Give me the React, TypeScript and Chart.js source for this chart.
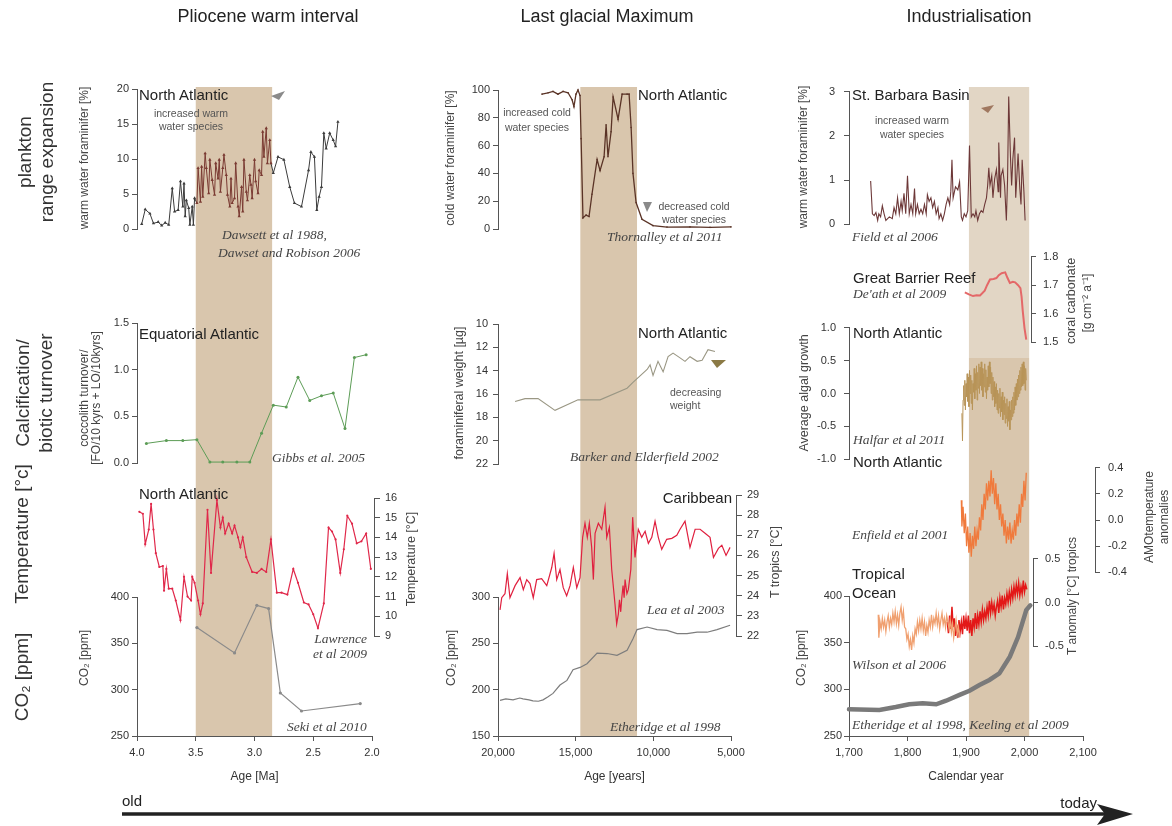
import React, { useEffect, useRef } from 'react';
import { Chart, registerables } from 'chart.js';

Chart.register(...registerables);

type Pt = [number, number];

// ====================== DATA ======================
// Axis ranges and tick labels
const plioceneDomain: Pt = [4.0, 2.0];
const glacialDomain: Pt = [20000, 5000];
const industrialDomain: Pt = [1700, 2100];
const plioceneAgeTicks = [4.0, 3.5, 3.0, 2.5, 2.0];
const glacialAgeTicks = [20000, 15000, 10000, 5000];
const industrialYearTicks = [1700, 1800, 1900, 2000, 2100];
const plioceneBand: Pt = [3.5, 2.85];
const glacialBand: Pt = [14700, 11050];
const industrialBand: Pt = [1905, 2008];

// Pliocene (Ma, value)
const plioWarmForam: Pt[] = [
  [3.96, 0.7], [3.93, 2.8], [3.89, 2.2], [3.86, 0.8], [3.82, 1.0], [3.79, 0.5], [3.76, 0.9], [3.73, 0.6],
  [3.70, 5.8], [3.68, 2.5], [3.65, 2.7], [3.63, 6.8], [3.61, 3.2], [3.60, 6.5], [3.59, 1.8], [3.58, 4.1],
  [3.56, 3.0], [3.55, 0.6], [3.53, 3.2], [3.52, 0.6], [3.51, 4.4], [3.49, 3.7], [3.48, 8.7], [3.46, 3.9],
  [3.45, 8.9], [3.44, 4.6], [3.42, 10.8], [3.41, 8.7], [3.39, 5.1], [3.38, 9.9], [3.36, 7.0], [3.34, 4.9],
  [3.33, 9.4], [3.31, 7.2], [3.30, 9.9], [3.29, 5.3], [3.27, 8.7], [3.26, 10.6], [3.24, 7.7], [3.23, 4.9],
  [3.21, 3.2], [3.20, 7.2], [3.19, 3.7], [3.17, 4.4], [3.16, 9.4], [3.14, 3.2], [3.13, 1.8], [3.11, 6.0],
  [3.10, 2.5], [3.09, 9.9], [3.07, 5.3], [3.06, 4.1], [3.04, 7.7], [3.03, 6.3], [3.02, 4.4], [3.00, 9.9],
  [2.99, 6.8], [2.97, 5.1], [2.96, 8.4], [2.94, 7.7], [2.93, 13.9], [2.92, 10.3], [2.90, 14.4], [2.89, 9.4],
  [2.87, 12.7], [2.86, 9.4], [2.84, 8.0], [2.80, 10.3], [2.75, 9.9], [2.70, 6.0], [2.66, 3.7], [2.60, 3.2],
  [2.54, 8.4], [2.52, 11.0], [2.49, 10.3], [2.47, 2.7], [2.45, 4.6], [2.43, 6.0], [2.41, 13.7], [2.39, 11.5],
  [2.36, 13.7], [2.33, 12.7], [2.31, 11.8], [2.29, 15.3],
];
const plioCoccolith: Pt[] = [
  [3.92, 0.21], [3.75, 0.24], [3.61, 0.24], [3.49, 0.25], [3.38, 0.01], [3.27, 0.01], [3.15, 0.01], [3.04, 0.01],
  [2.94, 0.32], [2.84, 0.62], [2.73, 0.60], [2.63, 0.92], [2.53, 0.67], [2.43, 0.72], [2.33, 0.75], [2.23, 0.37],
  [2.15, 1.13], [2.05, 1.16],
];
const plioTemperature: Pt[] = [
  [3.98, 15.3], [3.95, 15.2], [3.93, 13.66], [3.90, 14.4], [3.88, 15.7], [3.86, 14.4], [3.84, 13.2], [3.81, 12.5],
  [3.78, 12.55], [3.77, 11.3], [3.75, 12.4], [3.73, 11.4], [3.70, 11.4], [3.67, 10.8], [3.63, 9.8], [3.60, 12.0],
  [3.57, 11.0], [3.54, 10.8], [3.53, 12.0], [3.51, 11.7], [3.48, 10.8], [3.46, 10.1], [3.44, 10.65], [3.40, 15.4],
  [3.37, 12.2], [3.32, 15.9], [3.29, 14.5], [3.27, 15.0], [3.25, 14.2], [3.22, 14.7], [3.19, 14.2], [3.17, 14.6],
  [3.14, 14.0], [3.12, 13.5], [3.10, 14.0], [3.07, 13.0], [3.02, 12.25], [2.98, 12.2], [2.94, 12.4], [2.90, 12.25],
  [2.86, 13.9], [2.81, 11.2], [2.77, 11.2], [2.72, 11.1], [2.67, 12.4], [2.63, 11.7], [2.58, 10.7], [2.54, 10.6],
  [2.50, 10.1], [2.46, 9.4], [2.41, 10.65], [2.37, 14.5], [2.34, 14.3], [2.31, 13.9], [2.27, 12.2], [2.24, 13.4],
  [2.21, 15.1], [2.17, 14.7], [2.13, 13.7], [2.09, 13.8], [2.05, 14.2], [2.01, 12.4],
];
const plioCO2: Pt[] = [
  [3.49, 367], [3.17, 339.6], [2.98, 391], [2.88, 387.5], [2.78, 296.4], [2.60, 277], [2.10, 285],
];

// Last glacial (years BP, value)
const lgmColdForam: Pt[] = [
  [17170, 97], [16780, 98], [16460, 99], [16140, 97], [15810, 99], [15490, 98], [15230, 93], [15110, 88],
  [14980, 97], [14850, 100], [14720, 96], [14650, 65], [14530, 8], [14330, 10], [14140, 9], [13950, 25],
  [13620, 50], [13430, 42], [13170, 52], [13040, 75], [12920, 52], [12720, 70], [12590, 95], [12270, 79],
  [12010, 97], [11690, 97], [11560, 97], [11430, 73], [11310, 40], [11110, 19], [10730, 7], [10020, 2.4],
  [9120, 1.4], [7640, 1.5], [6350, 1.2], [5000, 1.5],
];
const lgmForamWeight: Pt[] = [
  [18900, 16.65], [18260, 16.4], [17420, 16.4], [16330, 17.4], [14850, 16.5], [13430, 16.5], [11690, 15.5],
  [11310, 15.0], [10400, 13.9], [10210, 13.5], [10020, 14.4], [9700, 13.2], [9370, 14.1], [9050, 12.8],
  [8730, 12.5], [8280, 12.9], [7960, 13.2], [7640, 12.8], [7180, 13.2], [6860, 13.1], [6480, 12.2], [6030, 12.35],
];
const lgmTropicsT: Pt[] = [
  [19870, 23.3], [19760, 23.9], [19550, 24.1], [19400, 25.1], [19230, 23.9], [18900, 24.5], [18580, 24.9],
  [18370, 24.3], [18150, 24.8], [17940, 24.6], [17730, 23.9], [17510, 24.8], [17190, 24.85], [16860, 24.5],
  [16540, 25.4], [16390, 26.1], [16220, 24.8], [16010, 25.3], [15800, 24.4], [15580, 24.0], [15360, 24.5],
  [15150, 25.4], [14930, 24.4], [14720, 24.9], [14550, 26.9], [14400, 27.6], [14250, 26.9], [14120, 27.6],
  [13970, 26.4], [13860, 24.8], [13750, 27.1], [13540, 27.6], [13320, 27.3], [13110, 28.4], [13000, 26.9],
  [12830, 27.4], [12680, 25.3], [12470, 23.6], [12360, 22.6], [12250, 23.1], [12180, 23.8], [12100, 23.2],
  [12030, 23.9], [11950, 24.5], [11880, 23.9], [11820, 24.8], [11700, 24.1], [11610, 24.3], [11450, 25.3],
  [11330, 27.9], [11180, 25.9], [10970, 27.3], [10750, 26.9], [10530, 27.2], [10320, 26.6], [10100, 26.9],
  [9890, 27.7], [9680, 26.9], [9460, 26.3], [9140, 26.8], [8810, 26.85], [8490, 27.0], [8280, 27.3],
  [7960, 27.7], [7640, 26.4], [7310, 27.3], [6990, 27.3], [6670, 27.1], [6350, 26.9], [6130, 25.9],
  [5810, 26.35], [5590, 26.5], [5320, 26.0], [5060, 26.4],
];
const lgmCO2: Pt[] = [
  [19870, 188.5], [19500, 190], [19030, 189], [18600, 191], [18390, 190], [18000, 189], [17750, 188],
  [17400, 187.5], [17100, 189], [16800, 192], [16460, 196], [16010, 205], [15560, 210], [15170, 221.6],
  [14720, 224], [14270, 228], [13620, 239.5], [12980, 239], [12340, 237], [11690, 242.5], [11310, 255],
  [11050, 264.8], [10400, 267.6], [9760, 264.8], [9120, 264], [8470, 260.5], [7830, 260.5], [7180, 262],
  [6540, 262], [5900, 264.8], [5060, 269.5],
];

// Industrialisation (calendar year, value)
const indWarmForam: Pt[] = [
  [1737, 0.98], [1740, 0.24], [1743, 0.20], [1746, 0.27], [1749, 0.09], [1751, 0.24], [1754, 0.17], [1757, 0.42],
  [1760, 0.24], [1763, 0.09], [1769, 0.17], [1774, 0.13], [1777, 0.38], [1780, 0.24], [1783, 0.60], [1786, 0.24],
  [1789, 0.52], [1791, 0.31], [1794, 0.70], [1797, 0.24], [1800, 1.10], [1803, 0.24], [1806, 0.45], [1809, 0.24],
  [1812, 0.81], [1814, 0.24], [1817, 0.45], [1820, 0.24], [1823, 0.34], [1826, 0.24], [1829, 0.45], [1832, 0.24],
  [1834, 0.67], [1837, 0.52], [1840, 0.60], [1843, 0.38], [1846, 0.52], [1849, 0.24], [1852, 0.38], [1854, 0.13],
  [1857, 0.24], [1860, 0.09], [1863, 0.24], [1866, 0.45], [1869, 0.60], [1872, 0.45], [1874, 0.74], [1876, 1.46],
  [1878, 0.60], [1882, 0.85], [1886, 0.78], [1889, 0.96], [1892, 0.17], [1894, 0.09], [1897, 0.24], [1900, 0.17],
  [1903, 0.31], [1906, 1.78], [1909, 0.17], [1912, 0.24], [1915, 0.17], [1917, 0.31], [1920, 0.09], [1923, 0.24],
  [1926, 0.31], [1929, 0.27], [1932, 0.45], [1935, 0.60], [1937, 0.88], [1939, 1.28], [1941, 0.88], [1944, 1.10],
  [1946, 0.60], [1949, 1.03], [1952, 1.24], [1955, 0.74], [1956, 1.85], [1959, 0.60], [1960, 1.10], [1963, 1.24],
  [1966, 0.88], [1969, 0.09], [1971, 1.00], [1973, 2.89], [1976, 1.53], [1978, 0.88], [1980, 1.46], [1983, 1.96],
  [1985, 0.60], [1987, 1.10], [1989, 1.60], [1992, 0.81], [1994, 0.45], [1996, 1.46], [1999, 0.74], [2001, 0.09],
];
const indCoralCarbonate: Pt[] = [
  [1898, 1.675], [1905, 1.668], [1912, 1.662], [1918, 1.665], [1924, 1.664], [1932, 1.681], [1936, 1.70],
  [1941, 1.72], [1947, 1.722], [1952, 1.725], [1956, 1.735], [1961, 1.742], [1967, 1.745], [1971, 1.725],
  [1975, 1.708], [1980, 1.712], [1984, 1.71], [1989, 1.70], [1993, 1.69], [1995, 1.66], [1997, 1.61],
  [2000, 1.55], [2003, 1.51],
];
const indAlgalGrowth: Pt[] = [
  [1893, -0.30], [1894, -0.72], [1895, -0.10], [1896, 0.12], [1897, -0.18], [1898, 0.20], [1899, -0.25], [1900, 0.15],
  [1901, -0.05], [1902, 0.30], [1903, -0.12], [1904, 0.25], [1905, -0.20], [1906, 0.35], [1907, 0.00], [1908, 0.28],
  [1909, -0.15], [1910, 0.20], [1911, -0.25], [1912, 0.15], [1913, 0.02], [1914, 0.38], [1915, -0.08], [1916, 0.30],
  [1917, 0.05], [1918, 0.42], [1919, -0.10], [1920, 0.32], [1921, 0.08], [1922, 0.45], [1923, 0.00], [1924, 0.40],
  [1925, 0.12], [1926, 0.48], [1927, 0.05], [1928, 0.38], [1929, -0.05], [1930, 0.30], [1931, 0.10], [1932, 0.45],
  [1933, 0.02], [1934, 0.36], [1935, -0.08], [1936, 0.25], [1937, 0.05], [1938, 0.42], [1939, 0.10], [1940, 0.48],
  [1941, 0.15], [1942, 0.40], [1943, 0.00], [1944, 0.32], [1945, -0.10], [1946, 0.25], [1947, -0.05], [1948, 0.18],
  [1949, -0.20], [1950, 0.10], [1951, -0.15], [1952, 0.15], [1953, -0.25], [1954, 0.05], [1955, -0.30], [1956, 0.00],
  [1957, -0.22], [1958, 0.08], [1959, -0.35], [1960, -0.05], [1961, -0.28], [1962, 0.02], [1963, -0.40], [1964, -0.10],
  [1965, -0.32], [1966, -0.05], [1967, -0.45], [1968, -0.15], [1969, -0.38], [1970, -0.08], [1971, -0.50], [1972, -0.20],
  [1973, -0.42], [1974, -0.12], [1975, -0.55], [1976, -0.25], [1977, -0.40], [1978, -0.10], [1979, -0.35], [1980, -0.05],
  [1981, -0.30], [1982, 0.02], [1983, -0.25], [1984, 0.10], [1985, -0.18], [1986, 0.15], [1987, -0.10], [1988, 0.22],
  [1989, -0.05], [1990, 0.28], [1991, 0.00], [1992, 0.35], [1993, 0.05], [1994, 0.40], [1995, 0.10], [1996, 0.45],
  [1997, 0.12], [1998, 0.48], [1999, 0.15], [2000, 0.42], [2001, 0.05], [2002, 0.38], [2003, 0.20],
];
const indAMO: Pt[] = [
  [1892, 0.15], [1893, -0.05], [1895, 0.10], [1897, -0.10], [1899, 0.05], [1901, -0.20], [1903, -0.05], [1905, -0.25],
  [1907, -0.10], [1909, -0.28], [1911, -0.12], [1913, -0.22], [1915, -0.05], [1917, -0.20], [1919, -0.08], [1921, -0.15],
  [1923, 0.02], [1925, -0.08], [1927, 0.12], [1929, 0.00], [1931, 0.20], [1933, 0.08], [1935, 0.28], [1937, 0.15],
  [1939, 0.30], [1941, 0.18], [1943, 0.38], [1945, 0.20], [1947, 0.32], [1949, 0.12], [1951, 0.28], [1953, 0.08],
  [1955, 0.20], [1957, 0.00], [1959, 0.12], [1961, -0.05], [1963, 0.05], [1965, -0.12], [1967, 0.00], [1969, -0.18],
  [1971, -0.05], [1973, -0.15], [1975, -0.02], [1977, -0.18], [1979, -0.08], [1981, -0.15], [1983, 0.00], [1985, -0.12],
  [1987, 0.05], [1989, -0.05], [1991, 0.12], [1993, -0.02], [1995, 0.20], [1997, 0.10], [1999, 0.30], [2001, 0.15],
  [2003, 0.36],
];
const indWilsonT: Pt[] = [
  [1750, -0.14], [1751, -0.40], [1753, -0.22], [1755, -0.30], [1757, -0.18], [1759, -0.28], [1761, -0.20], [1763, -0.33],
  [1765, -0.22], [1767, -0.15], [1769, -0.28], [1771, -0.18], [1773, -0.25], [1775, -0.12], [1777, -0.22], [1779, -0.10],
  [1781, -0.24], [1783, -0.14], [1785, -0.26], [1787, -0.12], [1789, -0.05], [1791, -0.20], [1793, -0.10], [1795, -0.28],
  [1797, -0.30], [1799, -0.42], [1801, -0.36], [1803, -0.50], [1805, -0.42], [1807, -0.54], [1809, -0.38], [1811, -0.46],
  [1813, -0.30], [1815, -0.36], [1817, -0.22], [1819, -0.32], [1821, -0.20], [1823, -0.30], [1825, -0.18], [1827, -0.32],
  [1829, -0.22], [1831, -0.38], [1833, -0.26], [1835, -0.34], [1837, -0.20], [1839, -0.28], [1841, -0.14], [1843, -0.28],
  [1845, -0.18], [1847, -0.24], [1849, -0.12], [1851, -0.25], [1853, -0.15], [1855, -0.30], [1857, -0.20], [1859, -0.12],
  [1861, -0.25], [1863, -0.18], [1865, -0.28], [1867, -0.15], [1869, -0.22], [1871, -0.30], [1873, -0.20], [1875, -0.34],
  [1877, -0.24], [1879, -0.40], [1881, -0.30], [1883, -0.20], [1885, -0.36], [1887, -0.28], [1889, -0.40],
];
const indTropicsT: Pt[] = [
  [1868, -0.22], [1870, -0.35], [1872, -0.15], [1874, -0.30], [1876, -0.05], [1878, -0.28], [1880, -0.18], [1882, -0.38],
  [1884, -0.25], [1886, -0.40], [1888, -0.20], [1890, -0.33], [1892, -0.22], [1894, -0.36], [1896, -0.15], [1898, -0.30],
  [1900, -0.18], [1902, -0.32], [1904, -0.15], [1906, -0.35], [1908, -0.20], [1910, -0.38], [1912, -0.18], [1914, -0.28],
  [1916, -0.12], [1918, -0.30], [1920, -0.15], [1922, -0.25], [1924, -0.10], [1926, -0.22], [1928, -0.08], [1930, -0.20],
  [1932, -0.10], [1934, -0.18], [1936, -0.05], [1938, -0.15], [1940, 0.02], [1942, -0.12], [1944, 0.00], [1946, -0.10],
  [1948, -0.02], [1950, -0.15], [1952, -0.05], [1954, 0.02], [1956, -0.12], [1958, 0.05], [1960, -0.05], [1962, 0.08],
  [1964, -0.08], [1966, 0.05], [1968, -0.02], [1970, 0.10], [1972, 0.00], [1974, 0.12], [1976, 0.02], [1978, 0.15],
  [1980, 0.05], [1982, 0.18], [1984, 0.08], [1986, 0.20], [1988, 0.10], [1990, 0.22], [1992, 0.08], [1994, 0.18],
  [1996, 0.10], [1998, 0.25], [2000, 0.12], [2002, 0.20], [2004, 0.15],
];
const indCO2: Pt[] = [
  [1700, 278.6], [1752, 277.9], [1780, 281], [1803, 284], [1826, 285], [1849, 284], [1866, 287.8], [1889, 294],
  [1906, 298.5], [1923, 304.6], [1940, 310], [1957, 317], [1975, 335], [1989, 356], [2003, 385], [2010, 390],
];

// Y tick labels
const ticksWarmPlio = [0, 5, 10, 15, 20];
const ticksCocco = [0, 0.5, 1.0, 1.5];
const ticksTempPlio = [9, 10, 11, 12, 13, 14, 15, 16];
const ticksCO2Plio = [250, 300, 350, 400];
const ticksColdLgm = [0, 20, 40, 60, 80, 100];
const ticksWeightLgm = [10, 12, 14, 16, 18, 20, 22];
const ticksTempLgm = [22, 23, 24, 25, 26, 27, 28, 29];
const ticksCO2Lgm = [150, 200, 250, 300];
const ticksWarmInd = [0, 1, 2, 3];
const ticksCoral = [1.5, 1.6, 1.7, 1.8];
const ticksAlgae = [-1.0, -0.5, 0.0, 0.5, 1.0];
const ticksAMO = [-0.4, -0.2, 0.0, 0.2, 0.4];
const ticksTropics = [-0.5, 0.0, 0.5];
const ticksCO2Ind = [250, 300, 350, 400];

// ====================== LAYOUT / STYLE ======================
const SANS = '"Liberation Sans", Arial, sans-serif';
const SERIF = '"Liberation Serif", "Times New Roman", serif';
const WL = 50, WR = 50, PV = 12, XH = 48;
const BAND_TOP = 87;
const BAND_COLOR = '#d9c6ad';

const fInt = (v: number) => String(Math.round(v));
const f1 = (v: number) => (Math.abs(v) < 1e-9 ? 0 : v).toFixed(1);
const fComma = (v: number) => Math.round(v).toLocaleString('en-US');

const COLS = [
  { p0: 137, p1: 372, domain: plioceneDomain, ticks: plioceneAgeTicks, fmt: f1, title: 'Age [Ma]' },
  { p0: 498, p1: 731, domain: glacialDomain, ticks: glacialAgeTicks, fmt: fComma, title: 'Age [years]' },
  { p0: 849, p1: 1083, domain: industrialDomain, ticks: industrialYearTicks, fmt: fComma, title: 'Calendar year' },
];

const bandPlugin = {
  id: 'band',
  beforeDraw(chart: any, _args: any, opts: any) {
    if (!opts || !opts.segments) return;
    const x = chart.scales.x;
    const a = x.getPixelForValue(opts.from);
    const b = x.getPixelForValue(opts.to);
    const ctx = chart.ctx;
    ctx.save();
    for (const sg of opts.segments) {
      ctx.fillStyle = sg.color;
      ctx.fillRect(Math.min(a, b), sg.top, Math.abs(b - a), sg.bottom - sg.top);
    }
    ctx.restore();
  },
};
Chart.register(bandPlugin as any);

function line(points: Pt[], color: string, width = 1, extra: any = {}) {
  return {
    data: points.map(([x, y]) => ({ x, y })),
    borderColor: color,
    backgroundColor: color,
    borderWidth: width,
    pointRadius: 0,
    pointBorderWidth: 0,
    tension: 0,
    clip: false,
    ...extra,
  };
}

interface PanelSpec {
  col: number; left: number; right: number; top: number; bottom: number;
  axis: 'left' | 'right'; yMin: number; yMax: number; yTicks: number[]; yFmt: (v: number) => string;
  yReverse?: boolean; tickLen?: number; tickPad?: number; xAxis?: boolean; band?: any; datasets: any[];
}

function geom(s: PanelSpec) {
  const x = s.left - WL;
  const y = s.xAxis ? 0 : s.top - PV;
  const w = s.right - s.left + WL + WR;
  const h = s.xAxis ? s.bottom + XH + 2 : s.bottom - s.top + 2 * PV;
  return { x, y, w, h };
}

function makeConfig(s: PanelSpec) {
  const c = COLS[s.col];
  const [d0, d1] = c.domain;
  const toVal = (px: number) => d0 + ((px - c.p0) * (d1 - d0)) / (c.p1 - c.p0);
  const va = toVal(s.left), vb = toVal(s.right);
  const xScale: any = {
    type: 'linear',
    min: Math.min(va, vb),
    max: Math.max(va, vb),
    reverse: va > vb,
    display: !!s.xAxis,
    afterBuildTicks: (sc: any) => { sc.ticks = c.ticks.map((v) => ({ value: v })); },
    ticks: { callback: (v: any) => c.fmt(Number(v)), font: { size: 11, family: SANS }, color: '#333', padding: 5, maxRotation: 0, autoSkip: false },
    grid: { drawOnChartArea: false, drawTicks: true, tickLength: 5, color: '#555' },
    border: { display: true, color: '#555', width: 1 },
    title: { display: true, text: c.title, font: { size: 12, family: SANS }, color: '#333', padding: 0 },
  };
  if (s.xAxis) xScale.afterFit = (sc: any) => { sc.height = XH; };
  return {
    type: 'line',
    data: { datasets: s.datasets },
    options: {
      animation: false,
      responsive: false,
      maintainAspectRatio: false,
      events: [],
      layout: {
        padding: {
          left: s.axis === 'left' ? 0 : WL,
          right: s.axis === 'right' ? 0 : WR,
          top: s.xAxis ? s.top : PV,
          bottom: s.xAxis ? 2 : PV,
        },
      },
      plugins: { legend: { display: false }, tooltip: { enabled: false }, band: s.band || {} },
      scales: {
        x: xScale,
        y: {
          type: 'linear',
          position: s.axis,
          min: s.yMin,
          max: s.yMax,
          reverse: !!s.yReverse,
          afterBuildTicks: (sc: any) => { sc.ticks = s.yTicks.map((v) => ({ value: v })); },
          afterFit: (sc: any) => { sc.width = s.axis === 'left' ? WL : WR; },
          ticks: { callback: (v: any) => s.yFmt(Number(v)), font: { size: 11, family: SANS }, color: '#333', padding: s.tickPad ?? 3, autoSkip: false },
          grid: { drawOnChartArea: false, drawTicks: true, tickLength: s.tickLen ?? 5, color: '#555' },
          border: { display: true, color: '#555', width: 1 },
        },
      },
    },
  };
}

const inPlioBand = (x: number) => x <= plioceneBand[0] && x >= plioceneBand[1];

const PANELS: PanelSpec[] = [
  // ---------- Pliocene ----------
  {
    col: 0, left: 137, right: 372, top: 597, bottom: 736, axis: 'left', yMin: 250, yMax: 400, yTicks: ticksCO2Plio, yFmt: fInt,
    xAxis: true, band: { from: plioceneBand[0], to: plioceneBand[1], segments: [{ top: BAND_TOP, bottom: 736, color: BAND_COLOR }] },
    datasets: [line(plioCO2, '#8a8a8a', 1.2, { pointRadius: 1.6 })],
  },
  {
    col: 0, left: 137, right: 374, top: 498, bottom: 636, axis: 'right', yMin: 9, yMax: 16, yTicks: ticksTempPlio, yFmt: fInt,
    tickLen: 6, tickPad: 5,
    datasets: [line(plioTemperature, '#e0284a', 1.2, { pointRadius: 1.1 })],
  },
  {
    col: 0, left: 137, right: 372, top: 89, bottom: 229, axis: 'left', yMin: 0, yMax: 20, yTicks: ticksWarmPlio, yFmt: fInt,
    datasets: [line(plioWarmForam, '#3b3b3b', 1, {
      pointRadius: 1.9, pointStyle: 'triangle',
      pointBackgroundColor: (ctx: any) => (ctx.raw && inPlioBand(ctx.raw.x) ? '#7a3a32' : '#3b3b3b'),
      segment: { borderColor: (ctx: any) => (inPlioBand(ctx.p0.parsed.x) && inPlioBand(ctx.p1.parsed.x) ? '#7a3a32' : '#3b3b3b') },
    })],
  },
  {
    col: 0, left: 137, right: 372, top: 323, bottom: 463, axis: 'left', yMin: 0, yMax: 1.5, yTicks: ticksCocco, yFmt: f1,
    datasets: [line(plioCoccolith, '#5c9c56', 1, { pointRadius: 1.5 })],
  },
  // ---------- Last glacial ----------
  {
    col: 1, left: 498, right: 731, top: 597, bottom: 736, axis: 'left', yMin: 150, yMax: 300, yTicks: ticksCO2Lgm, yFmt: fInt,
    xAxis: true, band: { from: glacialBand[0], to: glacialBand[1], segments: [{ top: BAND_TOP, bottom: 736, color: BAND_COLOR }] },
    datasets: [line(lgmCO2, '#7d7d7d', 1.2)],
  },
  {
    col: 1, left: 498, right: 736, top: 495, bottom: 636, axis: 'right', yMin: 22, yMax: 29, yTicks: ticksTempLgm, yFmt: fInt,
    tickLen: 6, tickPad: 5,
    datasets: [line(lgmTropicsT, '#e0203f', 1.2)],
  },
  {
    col: 1, left: 498, right: 731, top: 90, bottom: 229, axis: 'left', yMin: 0, yMax: 100, yTicks: ticksColdLgm, yFmt: fInt,
    datasets: [line(lgmColdForam, '#5a3326', 1.3, { pointRadius: 0.8 })],
  },
  {
    col: 1, left: 498, right: 731, top: 324, bottom: 464, axis: 'left', yMin: 10, yMax: 22, yReverse: true, yTicks: ticksWeightLgm, yFmt: fInt,
    tickPad: 5,
    datasets: [line(lgmForamWeight, '#9a9784', 1.1)],
  },
  // ---------- Industrialisation ----------
  {
    col: 2, left: 849, right: 1083, top: 596, bottom: 736, axis: 'left', yMin: 250, yMax: 400, yTicks: ticksCO2Ind, yFmt: fInt,
    tickPad: 2,
    xAxis: true,
    band: {
      from: industrialBand[0], to: industrialBand[1],
      segments: [{ top: BAND_TOP, bottom: 358, color: '#e2d6c5' }, { top: 358, bottom: 736, color: BAND_COLOR }],
    },
    datasets: [line(indCO2, '#7a7a7a', 4.5, { borderCapStyle: 'round' })],
  },
  {
    col: 2, left: 849, right: 1033, top: 557, bottom: 648, axis: 'right', yMin: -0.5, yMax: 0.5, yTicks: ticksTropics, yFmt: f1,
    tickPad: 7,
    datasets: [line(indWilsonT, '#f0a070', 1.3), line(indTropicsT, '#e31818', 1.5)],
  },
  {
    col: 2, left: 849, right: 1095, top: 465, bottom: 575, axis: 'right', yMin: -0.4, yMax: 0.4, yTicks: ticksAMO, yFmt: f1,
    tickPad: 8,
    datasets: [line(indAMO, '#f07a3c', 1.3)],
  },
  {
    col: 2, left: 849, right: 1083, top: 325, bottom: 462, axis: 'left', yMin: -1, yMax: 1, yTicks: ticksAlgae, yFmt: f1,
    tickPad: 8,
    datasets: [line(indAlgalGrowth, '#b89458', 1)],
  },
  {
    col: 2, left: 849, right: 1031, top: 255, bottom: 344, axis: 'right', yMin: 1.5, yMax: 1.8, yTicks: ticksCoral, yFmt: f1,
    tickPad: 7,
    datasets: [line(indCoralCarbonate, '#e46868', 2)],
  },
  {
    col: 2, left: 849, right: 1083, top: 88, bottom: 228, axis: 'left', yMin: 0, yMax: 3, yTicks: ticksWarmInd, yFmt: fInt,
    tickPad: 9,
    datasets: [line(indWarmForam, '#6d3838', 1.1)],
  },
];

// ---------- Text overlays ----------
type Lbl = { t: string; x: number; y: number; size?: number; serif?: boolean; italic?: boolean; anchor?: 'left' | 'center' | 'right'; rot?: boolean; color?: string };

const LABELS: Lbl[] = [
  // column titles
  { t: 'Pliocene warm interval', x: 268, y: 16, size: 18, anchor: 'center', color: '#222' },
  { t: 'Last glacial Maximum', x: 607, y: 16, size: 18, anchor: 'center', color: '#222' },
  { t: 'Industrialisation', x: 969, y: 16, size: 18, anchor: 'center', color: '#222' },
  // row labels
  { t: 'plankton', x: 24, y: 152, size: 19, rot: true },
  { t: 'range expansion', x: 46, y: 152, size: 19, rot: true },
  { t: 'Calcification/', x: 22, y: 393, size: 19, rot: true },
  { t: 'biotic turnover', x: 45, y: 393, size: 19, rot: true },
  { t: 'Temperature [°c]', x: 21, y: 534, size: 19, rot: true },
  { t: 'CO₂ [ppm]', x: 21, y: 677, size: 19, rot: true },
  // axis titles
  { t: 'warm water foraminifer [%]', x: 84, y: 158, size: 12, rot: true, color: '#444' },
  { t: 'coccolith turnover/', x: 84, y: 398, size: 12, rot: true, color: '#444' },
  { t: '[FO/10 kyrs + LO/10kyrs]', x: 96, y: 398, size: 12, rot: true, color: '#444' },
  { t: 'CO₂ [ppm]', x: 84, y: 658, size: 12, rot: true, color: '#444' },
  { t: 'Temperature [°C]', x: 411, y: 559, size: 12.5, rot: true, color: '#444' },
  { t: 'cold water foraminifer [%]', x: 450, y: 158, size: 12, rot: true, color: '#444' },
  { t: 'foraminiferal weight [µg]', x: 459, y: 393, size: 12.5, rot: true, color: '#444' },
  { t: 'CO₂ [ppm]', x: 451, y: 658, size: 12, rot: true, color: '#444' },
  { t: 'T tropics [°C]', x: 775, y: 562, size: 12.5, rot: true, color: '#444' },
  { t: 'warm water foraminifer [%]', x: 803, y: 157, size: 12, rot: true, color: '#444' },
  { t: 'coral carbonate', x: 1071, y: 301, size: 12.5, rot: true, color: '#444' },
  { t: '[g cm⁻² a⁻¹]', x: 1087, y: 303, size: 12, rot: true, color: '#444' },
  { t: 'Average algal growth', x: 804, y: 393, size: 12.5, rot: true, color: '#444' },
  { t: 'AMOtemperature', x: 1149, y: 517, size: 12, rot: true, color: '#444' },
  { t: 'anomalies', x: 1164, y: 517, size: 12, rot: true, color: '#444' },
  { t: 'T anomaly [°C] tropics', x: 1072, y: 596, size: 12, rot: true, color: '#444' },
  { t: 'CO₂ [ppm]', x: 801, y: 658, size: 12, rot: true, color: '#444' },
  // panel labels
  { t: 'North Atlantic', x: 139, y: 94, size: 15, color: '#222' },
  { t: 'Equatorial Atlantic', x: 139, y: 333, size: 15, color: '#222' },
  { t: 'North Atlantic', x: 139, y: 493, size: 15, color: '#222' },
  { t: 'North Atlantic', x: 638, y: 94, size: 15, color: '#222' },
  { t: 'North Atlantic', x: 638, y: 332, size: 15, color: '#222' },
  { t: 'Caribbean', x: 732, y: 497, size: 15, anchor: 'right', color: '#222' },
  { t: 'St. Barbara Basin', x: 852, y: 94, size: 15, color: '#222' },
  { t: 'Great Barrier Reef', x: 853, y: 277, size: 15, color: '#222' },
  { t: 'North Atlantic', x: 853, y: 332, size: 15, color: '#222' },
  { t: 'North Atlantic', x: 853, y: 461, size: 15, color: '#222' },
  { t: 'Tropical', x: 852, y: 573, size: 15, color: '#222' },
  { t: 'Ocean', x: 852, y: 592, size: 15, color: '#222' },
  // annotations
  { t: 'increased warm', x: 191, y: 113, size: 10.5, anchor: 'center', color: '#555' },
  { t: 'water species', x: 191, y: 126, size: 10.5, anchor: 'center', color: '#555' },
  { t: 'increased cold', x: 537, y: 112, size: 10.5, anchor: 'center', color: '#555' },
  { t: 'water species', x: 537, y: 127, size: 10.5, anchor: 'center', color: '#555' },
  { t: 'decreased cold', x: 694, y: 206, size: 10.5, anchor: 'center', color: '#555' },
  { t: 'water species', x: 694, y: 219, size: 10.5, anchor: 'center', color: '#555' },
  { t: 'decreasing', x: 670, y: 392, size: 10.5, color: '#555' },
  { t: 'weight', x: 670, y: 405, size: 10.5, color: '#555' },
  { t: 'increased warm', x: 912, y: 120, size: 10.5, anchor: 'center', color: '#555' },
  { t: 'water species', x: 912, y: 134, size: 10.5, anchor: 'center', color: '#555' },
  // citations
  { t: 'Dawsett et al 1988,', x: 222, y: 235, size: 13.5, serif: true, italic: true, color: '#444' },
  { t: 'Dawset and Robison 2006', x: 218, y: 253, size: 13.5, serif: true, italic: true, color: '#444' },
  { t: 'Gibbs et al. 2005', x: 272, y: 458, size: 13.5, serif: true, italic: true, color: '#444' },
  { t: 'Lawrence', x: 367, y: 639, size: 13.5, serif: true, italic: true, anchor: 'right', color: '#444' },
  { t: 'et al 2009', x: 367, y: 654, size: 13.5, serif: true, italic: true, anchor: 'right', color: '#444' },
  { t: 'Seki et al 2010', x: 287, y: 727, size: 13.5, serif: true, italic: true, color: '#444' },
  { t: 'Thornalley et al 2011', x: 607, y: 237, size: 13.5, serif: true, italic: true, color: '#444' },
  { t: 'Barker and Elderfield 2002', x: 570, y: 457, size: 13.5, serif: true, italic: true, color: '#444' },
  { t: 'Lea et al 2003', x: 647, y: 610, size: 13.5, serif: true, italic: true, color: '#444' },
  { t: 'Etheridge et al 1998', x: 610, y: 727, size: 13.5, serif: true, italic: true, color: '#444' },
  { t: 'Field et al 2006', x: 852, y: 237, size: 13.5, serif: true, italic: true, color: '#444' },
  { t: "De'ath et al 2009", x: 853, y: 294, size: 13.5, serif: true, italic: true, color: '#444' },
  { t: 'Halfar et al 2011', x: 853, y: 440, size: 13.5, serif: true, italic: true, color: '#444' },
  { t: 'Enfield et al 2001', x: 852, y: 535, size: 13.5, serif: true, italic: true, color: '#444' },
  { t: 'Wilson et al 2006', x: 852, y: 665, size: 13.5, serif: true, italic: true, color: '#444' },
  { t: 'Etheridge et al 1998, Keeling et al 2009', x: 852, y: 725, size: 13.5, serif: true, italic: true, color: '#444' },
  // time arrow
  { t: 'old', x: 122, y: 800, size: 15, color: '#222' },
  { t: 'today', x: 1097, y: 802, size: 15, anchor: 'right', color: '#222' },
];

function Label({ l }: { l: Lbl }) {
  const anchor = l.anchor || 'left';
  const tx = l.rot ? '-50%' : anchor === 'left' ? '0' : anchor === 'center' ? '-50%' : '-100%';
  return (
    <div
      style={{
        position: 'absolute', left: l.x, top: l.y,
        transform: `translate(${tx}, -50%)${l.rot ? ' rotate(-90deg)' : ''}`,
        fontFamily: l.serif ? SERIF : SANS, fontStyle: l.italic ? 'italic' : 'normal',
        fontSize: l.size || 12, color: l.color || '#333', whiteSpace: 'nowrap', lineHeight: 1,
      }}
    >
      {l.t}
    </div>
  );
}

function Panel({ s }: { s: PanelSpec }) {
  const ref = useRef<HTMLCanvasElement>(null);
  const g = geom(s);
  useEffect(() => {
    const chart = new Chart(ref.current as HTMLCanvasElement, makeConfig(s) as any);
    return () => chart.destroy();
  }, []);
  return (
    <canvas
      ref={ref}
      width={g.w}
      height={g.h}
      style={{ position: 'absolute', left: g.x, top: g.y, width: g.w, height: g.h }}
    />
  );
}

export default function App() {
  return (
    <div style={{ position: 'absolute', left: 0, top: 0, width: 1172, height: 826, background: '#fff', overflow: 'hidden' }}>
      {PANELS.map((s, i) => <Panel key={i} s={s} />)}
      <svg width={1172} height={826} style={{ position: 'absolute', left: 0, top: 0, pointerEvents: 'none' }}>
        <line x1={122} y1={814} x2={1108} y2={814} stroke="#222" strokeWidth={3.5} />
        <polygon points="1097,804 1133,814 1097,825 1105,814" fill="#222" />
        <polygon points="271,96 285,91 279,100" fill="#8a8a8a" />
        <polygon points="643,202 652,202 647,212" fill="#8a8a8a" />
        <polygon points="711,360 726,360 717,368" fill="#8b7a45" />
        <polygon points="981,108 994,105 988,113" fill="#a07860" />
      </svg>
      {LABELS.map((l, i) => <Label key={i} l={l} />)}
    </div>
  );
}
